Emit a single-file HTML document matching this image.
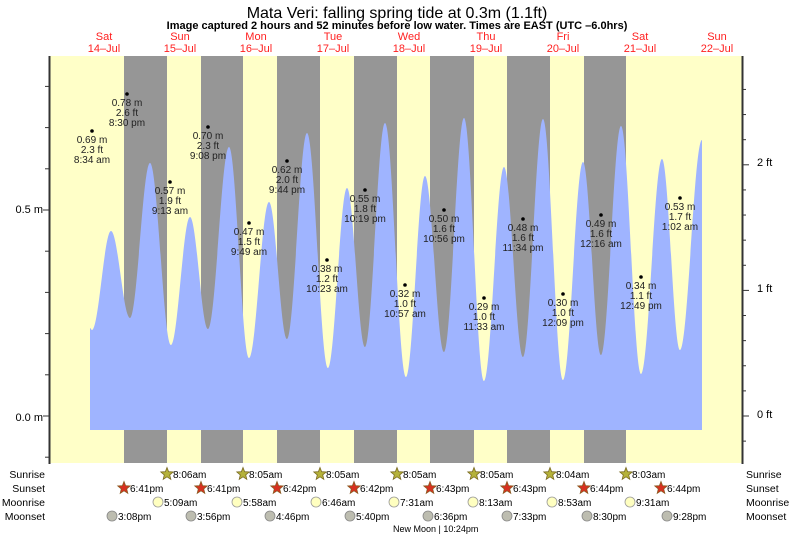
<!DOCTYPE html>
<html><head><meta charset="utf-8"><style>
body{margin:0;background:#fff;width:793px;height:538px;overflow:hidden}
svg{display:block;font-family:"Liberation Sans",sans-serif}
</style></head><body>
<svg id="s" width="793" height="538" viewBox="0 0 793 538">
<rect x="50" y="56" width="692" height="407" fill="#ffffc8"/>
<g fill="#969696">
<rect x="124" y="56" width="43" height="407"/><rect x="201" y="56" width="42" height="407"/>
<rect x="277" y="56" width="43" height="407"/><rect x="354" y="56" width="43" height="407"/>
<rect x="430" y="56" width="44" height="407"/><rect x="507" y="56" width="43" height="407"/>
<rect x="584" y="56" width="42" height="407"/>
</g>
<path id="tide" fill="#9fb4ff" d=""/>
<g id="ticks" stroke="#333" stroke-width="1"></g>
<line x1="49.5" y1="56" x2="49.5" y2="464" stroke="#333" stroke-width="2"/>
<line x1="742.5" y1="56" x2="742.5" y2="464" stroke="#333" stroke-width="2"/>
<g font-size="11" fill="#000">
<text x="43" y="213" text-anchor="end">0.5 m</text>
<text x="43" y="421" text-anchor="end">0.0 m</text>
<text x="757" y="166">2 ft</text><text x="757" y="292">1 ft</text><text x="757" y="418">0 ft</text>
</g>
<text x="397" y="18" font-size="16" text-anchor="middle">Mata Veri: falling  spring tide at 0.3m (1.1ft)</text>
<text x="397" y="29" font-size="11" font-weight="bold" text-anchor="middle">Image captured 2 hours and 52 minutes before low water. Times are EAST (UTC –6.0hrs)</text>
<g id="days" font-size="11" fill="#ff2020" text-anchor="middle"></g>
<g id="labels" font-size="10" fill="#222" text-anchor="middle"></g>
<g font-size="10.5" fill="#000">
<text x="45" y="478" text-anchor="end">Sunrise</text><text x="45" y="492" text-anchor="end">Sunset</text>
<text x="45" y="506" text-anchor="end">Moonrise</text><text x="45" y="520" text-anchor="end">Moonset</text>
<text x="746" y="478">Sunrise</text><text x="746" y="492">Sunset</text>
<text x="746" y="506">Moonrise</text><text x="746" y="520">Moonset</text>
</g>
<g id="sun" font-size="10" fill="#000"></g>
<text x="393" y="532" font-size="9" fill="#000">New Moon | 10:24pm</text>
</svg>
<script>
var ns="http://www.w3.org/2000/svg";
function el(p,t,a,txt){var e=document.createElementNS(ns,t);for(var k in a)e.setAttribute(k,a[k]);if(txt!=null)e.textContent=txt;document.getElementById(p).appendChild(e);return e;}
var P=[[90,328],[92,330],[111,231],[130,318],[150,163],[171,345],[190,217],[208,329],[229,147],[249,358],[269,202],[287,339],[307,133],[328,368],[347,188],[365,347],[385,123],[406,377],[425,176],[444,352],[464,118],[484,381],[504,167],[523,357],[543,119],[563,380],[583,162],[601,355],[621,126],[641,374],[662,159],[680,350],[702,140]];
var d="M90,430 L90,328";
for(var i=1;i<P.length;i++){var a=P[i-1],b=P[i],dx=b[0]-a[0];d+=" C"+(a[0]+dx*0.36)+","+a[1]+" "+(b[0]-dx*0.36)+","+b[1]+" "+b[0]+","+b[1];}
d+=" L702,430 Z";document.getElementById("tide").setAttribute("d",d);
for(var h=-0.1;h<=0.85;h+=0.1){var y=416-412*h;var big=Math.abs(h)<0.01||Math.abs(h-0.5)<0.01;el("ticks","line",{x1:big?43:45,x2:49,y1:y,y2:y});}
for(var f=-0.2;f<=2.8;f+=0.2){var y=416-125.6*f;var big=Math.abs(f-Math.round(f))<0.01;el("ticks","line",{x1:743,x2:big?749:746,y1:y,y2:y});}
var days=[["Sat","14–Jul",104],["Sun","15–Jul",180],["Mon","16–Jul",256],["Tue","17–Jul",333],["Wed","18–Jul",409],["Thu","19–Jul",486],["Fri","20–Jul",563],["Sat","21–Jul",640],["Sun","22–Jul",717]];
days.forEach(function(q){el("days","text",{x:q[2],y:40},q[0]);el("days","text",{x:q[2],y:52},q[1]);});
var L=[["0.69 m","2.3 ft","8:34 am",92,131],["0.78 m","2.6 ft","8:30 pm",127,94],["0.57 m","1.9 ft","9:13 am",170,182],["0.70 m","2.3 ft","9:08 pm",208,127],["0.47 m","1.5 ft","9:49 am",249,223],["0.62 m","2.0 ft","9:44 pm",287,161],["0.38 m","1.2 ft","10:23 am",327,260],["0.55 m","1.8 ft","10:19 pm",365,190],["0.32 m","1.0 ft","10:57 am",405,285],["0.50 m","1.6 ft","10:56 pm",444,210],["0.29 m","1.0 ft","11:33 am",484,298],["0.48 m","1.6 ft","11:34 pm",523,219],["0.30 m","1.0 ft","12:09 pm",563,294],["0.49 m","1.6 ft","12:16 am",601,215],["0.34 m","1.1 ft","12:49 pm",641,277],["0.53 m","1.7 ft","1:02 am",680,198]];
L.forEach(function(q){el("labels","circle",{cx:q[3],cy:q[4],r:1.8,fill:"#000"});for(var j=0;j<3;j++)el("labels","text",{x:q[3],y:q[4]+12+j*10},q[j]);});
function star(cx,cy,fill,stroke){var p="";for(var k=0;k<10;k++){var r=k%2?2.8:6.5,a=-Math.PI/2+k*Math.PI/5;p+=(cx+r*Math.cos(a)).toFixed(1)+","+(cy+r*Math.sin(a)).toFixed(1)+" ";}el("sun","polygon",{points:p,fill:fill,stroke:stroke,"stroke-width":0.8});}
var sr=[[167,"8:06am"],[243,"8:05am"],[320,"8:05am"],[397,"8:05am"],[474,"8:05am"],[550,"8:04am"],[626,"8:03am"]];
sr.forEach(function(q){star(q[0],474,"#b5b23a","#7a6a20");el("sun","text",{x:q[0]+6,y:478},q[1]);});
var ss=[[124,"6:41pm"],[201,"6:41pm"],[277,"6:42pm"],[354,"6:42pm"],[430,"6:43pm"],[507,"6:43pm"],[584,"6:44pm"],[661,"6:44pm"]];
ss.forEach(function(q){star(q[0],488,"#d83020","#8a5a20");el("sun","text",{x:q[0]+6,y:492},q[1]);});
var mr=[[158,"5:09am"],[237,"5:58am"],[316,"6:46am"],[394,"7:31am"],[473,"8:13am"],[552,"8:53am"],[630,"9:31am"]];
mr.forEach(function(q){el("sun","circle",{cx:q[0],cy:502,r:5,fill:"#ffffc0",stroke:"#999","stroke-width":0.8});el("sun","text",{x:q[0]+6,y:506},q[1]);});
var ms=[[112,"3:08pm"],[191,"3:56pm"],[270,"4:46pm"],[350,"5:40pm"],[428,"6:36pm"],[507,"7:33pm"],[587,"8:30pm"],[667,"9:28pm"]];
ms.forEach(function(q){el("sun","circle",{cx:q[0],cy:516,r:5,fill:"#bdbdb0",stroke:"#888","stroke-width":0.8});el("sun","text",{x:q[0]+6,y:520},q[1]);});
</script>
</body></html>
